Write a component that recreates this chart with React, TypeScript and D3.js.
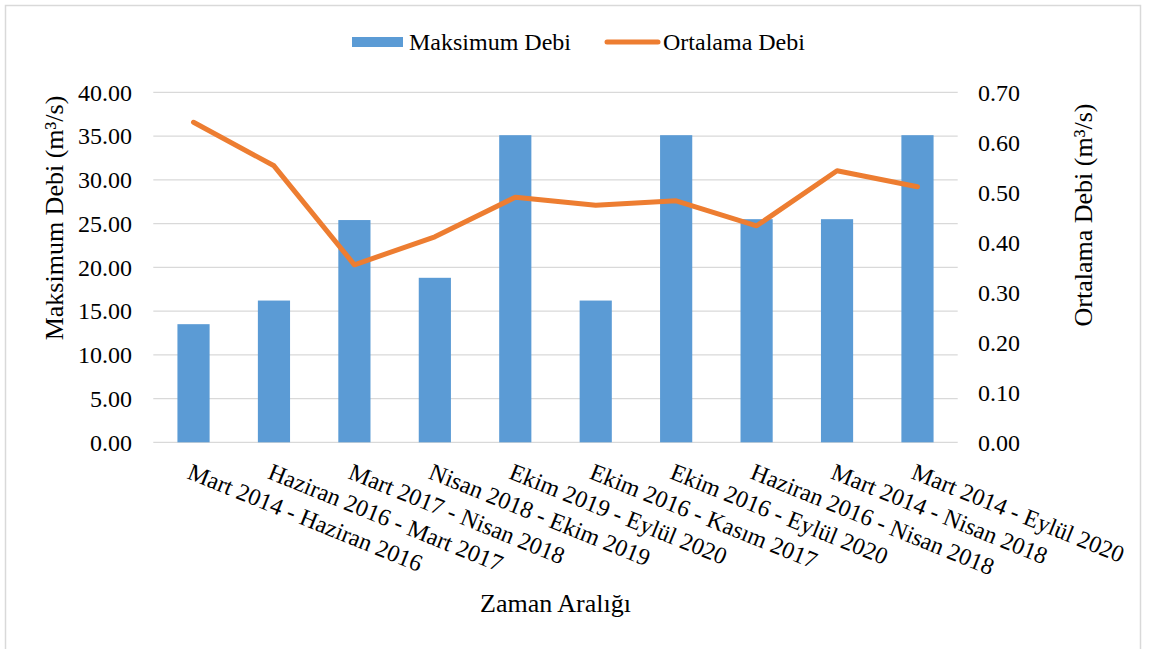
import React from 'react';
import * as d3 from 'd3';

const width = 1150;
const height = 649;

const categories = [
  'Mart 2014 - Haziran 2016',
  'Haziran 2016 - Mart 2017',
  'Mart 2017 - Nisan 2018',
  'Nisan 2018 - Ekim 2019',
  'Ekim 2019 - Eylül 2020',
  'Ekim 2016 - Kasım 2017',
  'Ekim 2016 - Eylül 2020',
  'Haziran 2016 - Nisan 2018',
  'Mart 2014 - Nisan 2018',
  'Mart 2014 - Eylül 2020',
];
const maxFlow = [13.5, 16.2, 25.4, 18.8, 35.1, 16.2, 35.1, 25.5, 25.5, 35.1];
const meanFlow = [0.64, 0.553, 0.355, 0.411, 0.49, 0.474, 0.483, 0.433, 0.543, 0.511];
const leftTicks = [0, 5, 10, 15, 20, 25, 30, 35, 40];
const rightTicks = [0, 0.1, 0.2, 0.3, 0.4, 0.5, 0.6, 0.7];

const plot = { left: 153.3, right: 957.7, top: 92.3, bottom: 442.3 };
const font = '"Liberation Serif", "Times New Roman", serif';
const barColor = '#5B9BD5';
const lineColor = '#ED7D31';
const gridColor = '#D9D9D9';

const App: React.FC = () => {
  const x = d3
    .scaleBand<string>()
    .domain(categories)
    .range([plot.left, plot.right])
    .paddingInner(0.6)
    .paddingOuter(0.3);
  const yLeft = d3.scaleLinear().domain([0, 40]).range([plot.bottom, plot.top]);
  const yRight = d3.scaleLinear().domain([0, 0.7]).range([plot.bottom, plot.top]);
  const cx = (c: string) => (x(c) ?? 0) + x.bandwidth() / 2;

  const line = d3
    .line<number>()
    .x((_, i) => cx(categories[i]))
    .y(d => yRight(d));

  return (
    <div style={{ position: 'absolute', left: 0, top: 0 }}>
      <svg width={width} height={height} style={{ display: 'block', background: '#fff' }}>
        <rect x={5.5} y={5.5} width={1135} height={700} fill="#fff" stroke={gridColor} strokeWidth={1.5} />

        {leftTicks.map(t => (
          <line key={t} x1={plot.left} x2={plot.right} y1={yLeft(t)} y2={yLeft(t)} stroke={gridColor} strokeWidth={1.3} />
        ))}

        {categories.map((c, i) => (
          <rect
            key={c}
            x={x(c)}
            y={yLeft(maxFlow[i])}
            width={x.bandwidth()}
            height={yLeft(0) - yLeft(maxFlow[i])}
            fill={barColor}
          />
        ))}

        <path d={line(meanFlow) ?? ''} fill="none" stroke={lineColor} strokeWidth={5} strokeLinejoin="round" strokeLinecap="round" />

        <g fontFamily={font} fontSize={24} fill="#000">
          {leftTicks.map(t => (
            <text key={t} x={132} y={yLeft(t)} dy="0.35em" textAnchor="end">
              {t.toFixed(2)}
            </text>
          ))}
          {rightTicks.map(t => (
            <text key={t} x={978} y={yRight(t)} dy="0.35em" textAnchor="start">
              {t.toFixed(2)}
            </text>
          ))}
          {categories.map(c => (
            <text key={c} transform={`translate(${cx(c) - 7.5},478) rotate(22)`} textAnchor="start">
              {c}
            </text>
          ))}

          <rect x={352} y={37} width={51} height={10} fill={barColor} />
          <text x={409} y={42} dy="0.35em">Maksimum Debi</text>
          <line x1={607} x2={658} y1={42} y2={42} stroke={lineColor} strokeWidth={5} strokeLinecap="round" />
          <text x={663} y={42} dy="0.35em">Ortalama Debi</text>
        </g>

        <g fontFamily={font} fontSize={26} fill="#000">
          <text x={(plot.left + plot.right) / 2} y={612} textAnchor="middle">
            Zaman Aralığı
          </text>
          <text transform="translate(54,218) rotate(-90)" dy="0.35em" textAnchor="middle">
            Maksimum Debi (m³/s)
          </text>
          <text transform="translate(1083,215) rotate(-90)" dy="0.35em" textAnchor="middle">
            Ortalama Debi (m³/s)
          </text>
        </g>
      </svg>
    </div>
  );
};

export default App;
